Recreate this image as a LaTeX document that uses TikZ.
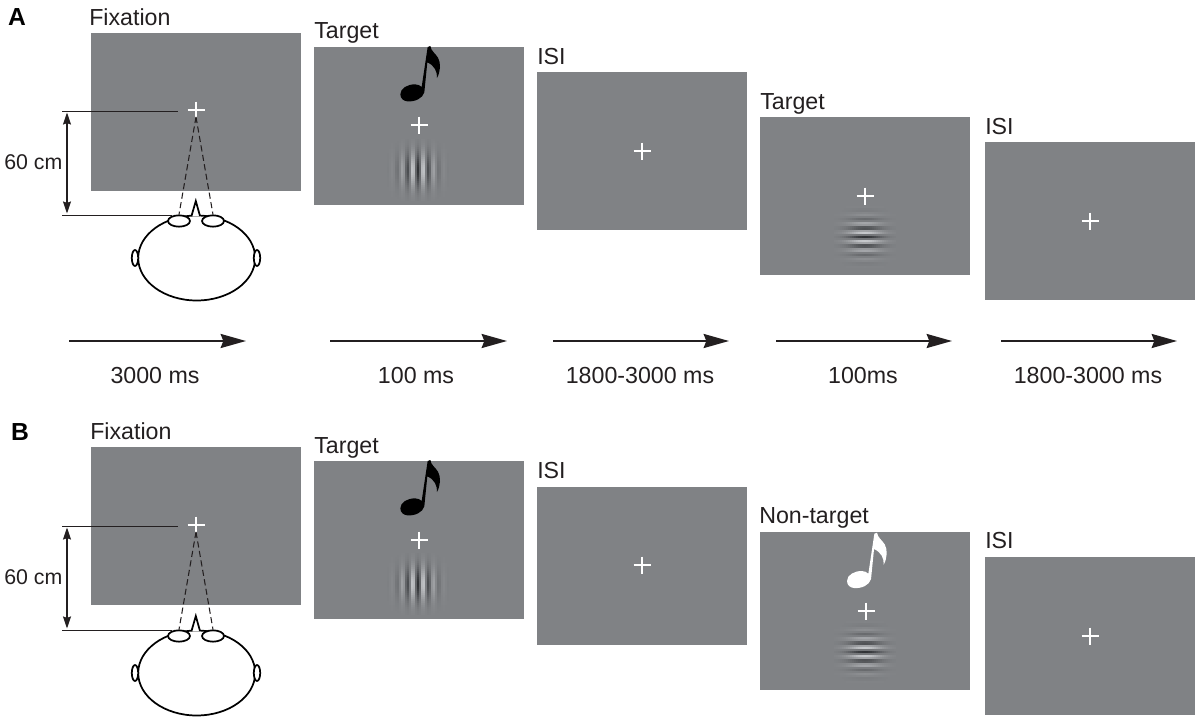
\documentclass[tikz,border=0pt]{standalone}
\usepackage{fontspec}
\setmainfont{Liberation Sans}
\usetikzlibrary{arrows.meta,shapes.geometric}
\definecolor{scr}{RGB}{128,130,133}
\definecolor{ink}{RGB}{35,31,32}
\tikzset{
  screen/.style={fill=scr,draw=none,inner sep=0pt,anchor=north west,minimum width=157.5pt,minimum height=118.5pt},
  lbl/.style={text=ink,font=\fontsize{17.4}{19}\selectfont,inner sep=0pt,anchor=base west},
  tim/.style={text=ink,font=\fontsize{17.4}{19}\selectfont,inner sep=0pt,anchor=base},
  dimtext/.style={text=ink,font=\fontsize{16}{18}\selectfont,inner sep=0pt,anchor=base west},
  letter/.style={text=black,font=\fontsize{18.5}{20}\selectfont\bfseries,inner sep=0pt,anchor=base},
  crossline/.style={draw=white,line width=2pt},
  flow/.style={draw=ink,line width=1.7pt,-{Stealth[length=19pt,width=10.5pt,inset=2pt]}},
  guide/.style={draw=ink,line width=0.7pt},
  dim/.style={draw=ink,line width=1pt,{Stealth[length=9pt,width=6pt,inset=1pt]}-{Stealth[length=9pt,width=6pt,inset=1pt]}},
  sight/.style={draw=ink,line width=0.8pt,dash pattern=on 4.6pt off 2.6pt},
  headline/.style={draw=black,line width=1.3pt,fill=white},
}
% fixation cross
\newcommand{\fixcross}[3]{%
  \coordinate (#1) at (#2,#3);
  \draw[crossline] (#2-8.5,#3) -- (#2+8.5,#3);
  \draw[crossline] (#2,#3-8.5) -- (#2,#3+8.5);}
% grating: centre x, y, 1 = vertical stripes, 0 = horizontal stripes, period
\newcommand{\gabor}[4]{%
  \foreach \i in {-30,-28,...,30}{\foreach \j in {-30,-28,...,30}{%
    \pgfmathsetmacro{\gd}{-0.31*cos(360*(#3*\i+(1-#3)*\j)/#4)*exp(-(\i*\i+\j*\j)/(2*135))}%
    \pgfmathsetmacro{\gr}{max(0,min(1,0.502+\gd))}%
    \pgfmathsetmacro{\gg}{max(0,min(1,0.510+\gd))}%
    \pgfmathsetmacro{\gb}{max(0,min(1,0.522+\gd))}%
    \definecolor{gab}{rgb}{\gr,\gg,\gb}%
    \fill[gab] (#1+\i-1.2,#2+\j-1.2) rectangle (#1+\i+1.2,#2+\j+1.2);
  }}}
% eighth note, coordinates in units of a third of a pixel
\newcommand{\note}[3]{%
  \begin{scope}[shift={(#1,#2)},scale=1/3]
    \fill[#3] (91,178) .. controls (91,160) and (112,148) .. (135,148)
      .. controls (143,148) and (150,151) .. (155,156)
      -- (173,36) -- (181,33)
      .. controls (183,48) and (196,55) .. (204,68)
      .. controls (213,84) and (212,108) .. (201,129)
      .. controls (202,110) and (194,92) .. (172,82)
      -- (163,172)
      .. controls (158,190) and (135,201) .. (112,199)
      .. controls (100,198) and (91,190) .. (91,178) -- cycle;
  \end{scope}}
% viewer's head and the lines that belong to it; #1 prefix, #2 vertical offset
\newcommand{\viewer}[2]{%
  \begin{scope}[shift={(0,#2)}]
    \coordinate (#1top) at (62,111);
    \coordinate (#1topend) at (178,111);
    \coordinate (#1bot) at (62,215);
    \coordinate (#1botend) at (172,215);
    \coordinate (#1dimA) at (67,112.5);
    \coordinate (#1dimB) at (67,213.5);
    \coordinate (#1sight) at (196,117);
    \draw[guide] (#1top) -- (#1topend);
    \draw[dim] (#1dimA) -- (#1dimB);
    \draw[headline] (196.7,258) ellipse [x radius=58.5,y radius=42.5];
    \draw[headline] (135,258) ellipse [x radius=3.2,y radius=8];
    \draw[headline] (257,258) ellipse [x radius=3.2,y radius=8];
    \draw[guide] (#1bot) -- (#1botend);
    \draw[headline,fill=white] (191.5,216) -- (195.8,201) -- (200,216);
    \node[headline,ellipse,minimum width=16.5pt,minimum height=8.5pt,inner sep=0pt] (#1eyeL) at (179,221) {};
    \node[headline,ellipse,minimum width=16.5pt,minimum height=8.5pt,inner sep=0pt] (#1eyeR) at (213,221) {};
    \draw[sight] (#1sight) -- (#1eyeL.north);
    \draw[sight] (#1sight) -- (#1eyeR.north);
  \end{scope}}
\begin{document}
\begin{tikzpicture}[x=0.75pt,y=-0.75pt]
\useasboundingbox (0,0) rectangle (1200,721);
% Panel A screens
\node[screen] (a1) at (91,33) {};
\node[screen] (a2) at (314,47) {};
\node[screen] (a3) at (537,72) {};
\node[screen] (a4) at (760,117) {};
\node[screen] (a5) at (985,142) {};
% Panel B screens
\node[screen] (b1) at (91,447) {};
\node[screen] (b2) at (314,461) {};
\node[screen] (b3) at (537,487) {};
\node[screen] (b4) at (760,532) {};
\node[screen] (b5) at (985,557) {};
% Stimuli
\gabor{418}{170}{1}{10.5}
\gabor{865}{237}{0}{9}
\gabor{418}{584}{1}{10.5}
\gabor{865}{652}{0}{9}
\note{370}{35}{black}
\note{370}{449}{black}
\note{816.7}{521.7}{white}
% Crosses
\fixcross{ca2}{419}{125}
\fixcross{ca3}{642}{151}
\fixcross{ca4}{865}{196}
\fixcross{ca5}{1090}{221}
\fixcross{cb2}{419}{540}
\fixcross{cb3}{642}{565}
\fixcross{cb4}{866}{611}
\fixcross{cb5}{1090}{636}
\fixcross{ca1}{196}{110}
\fixcross{cb1}{196}{525}
% Viewers
\viewer{va}{0}
\viewer{vb}{415}
\node[dimtext] (d1) at (4,169) {60 cm};
\node[dimtext] (d2) at (4,584) {60 cm};
% Titles
\node[letter] (la) at (17,26) {A};
\node[letter] (lb) at (20,440) {B};
\node[lbl] (t1) at (89,25) {Fixation};
\node[lbl] (t2) at (314,38) {Target};
\node[lbl] (t3) at (537,64) {ISI};
\node[lbl] (t4) at (760,109) {Target};
\node[lbl] (t5) at (985,134) {ISI};
\node[lbl] (u1) at (90,439) {Fixation};
\node[lbl] (u2) at (314,453) {Target};
\node[lbl] (u3) at (537,478) {ISI};
\node[lbl] (u4) at (759,523) {Non-target};
\node[lbl] (u5) at (985,548) {ISI};
% Timeline
\coordinate (s1) at (69,341); \coordinate (e1) at (246,341);
\coordinate (s2) at (330,341); \coordinate (e2) at (507,341);
\coordinate (s3) at (553,341); \coordinate (e3) at (729,341);
\coordinate (s4) at (776,341); \coordinate (e4) at (952,341);
\coordinate (s5) at (1001,341); \coordinate (e5) at (1177,341);
\foreach \k in {1,...,5} \draw[flow] (s\k) -- (e\k);
\node[tim] (m1) at (155,383) {3000 ms};
\node[tim] (m2) at (416,383) {100 ms};
\node[tim] (m3) at (640,383) {1800-3000 ms};
\node[tim] (m4) at (863,383) {100ms};
\node[tim] (m5) at (1088,383) {1800-3000 ms};
\end{tikzpicture}
\end{document}
